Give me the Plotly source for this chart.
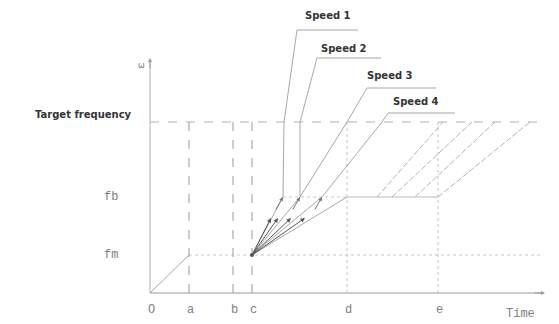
import plotly.graph_objects as go

# time marks on the axis (data units ~ pixels from origin)
tick_names = ["a", "b", "c", "d", "e"]
tick_t = [39, 83, 102, 197, 288]
t_end = 393
f_top = 233

# frequency levels
f_m = 38
f_b = 96
f_target = 171

# start ramp 0 -> a at fm
ramp_t = [0, 39]
ramp_f = [0, 38]

# rays fanning out from c (fm) up to fb
ray_end_t = [133, 150, 172, 197]
arrow_mid_t = [121, 128, 141, 155]
arrow_mid_f = 75

# speed curves above fb with leader lines to labels
speed1_t = [133, 134, 147, 208]
speed1_f = [96, 171, 263, 263]
speed2_t = [150, 150, 167, 231]
speed2_f = [96, 171, 235, 235]
speed3_t = [150, 197, 217, 286]
speed3_f = [96, 171, 205, 205]
speed4_t = [172, 232, 238, 305]
speed4_f = [96, 171, 180, 180]
speed_labels = ["Speed 1", "Speed 2", "Speed 3", "Speed 4"]
label_t = [178, 194, 240, 266]
label_f = [278, 245, 218, 192]

# hold at fb from d to e, then climb to target
hold_t = [197, 288]
par_start_t = [227, 242, 265, 288]
par_end_t = [293, 322, 345, 380]

LINE = "#a8a8a8"
DARK = "#555555"

fig = go.Figure()


def seg(x, y, color=LINE, dash="solid", width=1):
    fig.add_trace(go.Scatter(x=x, y=y, mode="lines",
                             line=dict(color=color, dash=dash, width=width),
                             hoverinfo="skip"))


# axes
seg([0, t_end], [0, 0], color="#999999")
seg([0, 0], [0, f_top], color="#b0b0b0")

# guide lines
seg([0, 390], [f_target, f_target], color="#b0b0b0", dash="dash")
seg([ramp_t[1], 390], [f_m, f_m], color="#c8c8c8", dash="dot")
for name, t in zip(tick_names, tick_t):
    if name in ("a", "b", "c"):
        seg([t, t], [0, f_target], color="#9a9a9a", dash="dash")
    else:
        seg([t, t], [0, f_target], color="#c4c4c4", dash="dot")

seg(ramp_t, ramp_f)
seg([ray_end_t[0], hold_t[0]], [f_b, f_b], color="#c8c8c8", dash="dot")
seg(hold_t, [f_b, f_b], color="#bbbbbb")

# rays from c
for t in ray_end_t:
    seg([tick_t[2], t], [f_m, f_b])

for x, y in [(speed1_t, speed1_f), (speed2_t, speed2_f),
             (speed3_t, speed3_f), (speed4_t, speed4_f)]:
    seg(x, y)

for t0, t1 in zip(par_start_t, par_end_t):
    seg([t0, t1], [f_b, f_target], color="#b4b4b4", dash="6px,2px")

# arrowheads along the rays
anns = []
for tm, te in zip(arrow_mid_t, ray_end_t):
    anns.append(dict(x=tm, y=arrow_mid_f, ax=tick_t[2], ay=f_m, xref="x", yref="y",
                     axref="x", ayref="y", text="", showarrow=True,
                     arrowhead=2, arrowsize=0.9, arrowwidth=1, arrowcolor=DARK))
for te in ray_end_t[:3]:
    anns.append(dict(x=te, y=f_b, ax=te - 8, ay=f_b - 14, xref="x", yref="y",
                     axref="x", ayref="y", text="", showarrow=True,
                     arrowhead=2, arrowsize=0.8, arrowwidth=1, arrowcolor="#777777"))

# axis arrows
anns.append(dict(x=t_end + 2, y=0, ax=t_end - 10, ay=0, xref="x", yref="y",
                 axref="x", ayref="y", text="", showarrow=True,
                 arrowhead=2, arrowsize=0.8, arrowwidth=1, arrowcolor="#999999"))
anns.append(dict(x=0, y=f_top + 2, ax=0, ay=f_top - 10, xref="x", yref="y",
                 axref="x", ayref="y", text="", showarrow=True,
                 arrowhead=2, arrowsize=0.8, arrowwidth=1, arrowcolor="#999999"))

mono = dict(family="Liberation Mono", size=12, color="#808080")
for name, t in zip(tick_names, tick_t):
    anns.append(dict(x=t + 1, y=-17, text=name, showarrow=False, font=mono))
anns.append(dict(x=1, y=-17, text="O", showarrow=False, font=mono))
anns.append(dict(x=370, y=-21, text="Time", showarrow=False, font=mono))
anns.append(dict(x=-39, y=f_m, text="fm", showarrow=False, font=mono))
anns.append(dict(x=-39, y=f_b, text="fb", showarrow=False, font=mono))
anns.append(dict(x=-9, y=228, text="ω", showarrow=False,
                 font=dict(family="DejaVu Sans", size=8, color="#777777")))

small = dict(family="DejaVu Sans", size=10, color="#333333")
anns.append(dict(x=-67, y=179, text="<b>Target frequency</b>", showarrow=False,
                 font=dict(family="DejaVu Sans", size=10, color="#333333")))
for lab, t, f in zip(speed_labels, label_t, label_f):
    anns.append(dict(x=t, y=f, text="<b>" + lab + "</b>", showarrow=False, font=small))

fig.add_trace(go.Scatter(x=[tick_t[2]], y=[f_m], mode="markers",
                         marker=dict(color=DARK, size=4), hoverinfo="skip"))

# page body adds an 8px offset, so the ranges are shifted to compensate
fig.update_layout(
    width=559, height=324,
    margin=dict(l=0, r=0, t=0, b=0),
    paper_bgcolor="white", plot_bgcolor="white",
    showlegend=False,
    xaxis=dict(range=[-142, 417], visible=False),
    yaxis=dict(range=[-39, 285], visible=False),
    annotations=anns,
)

fig.write_html("out.html")
